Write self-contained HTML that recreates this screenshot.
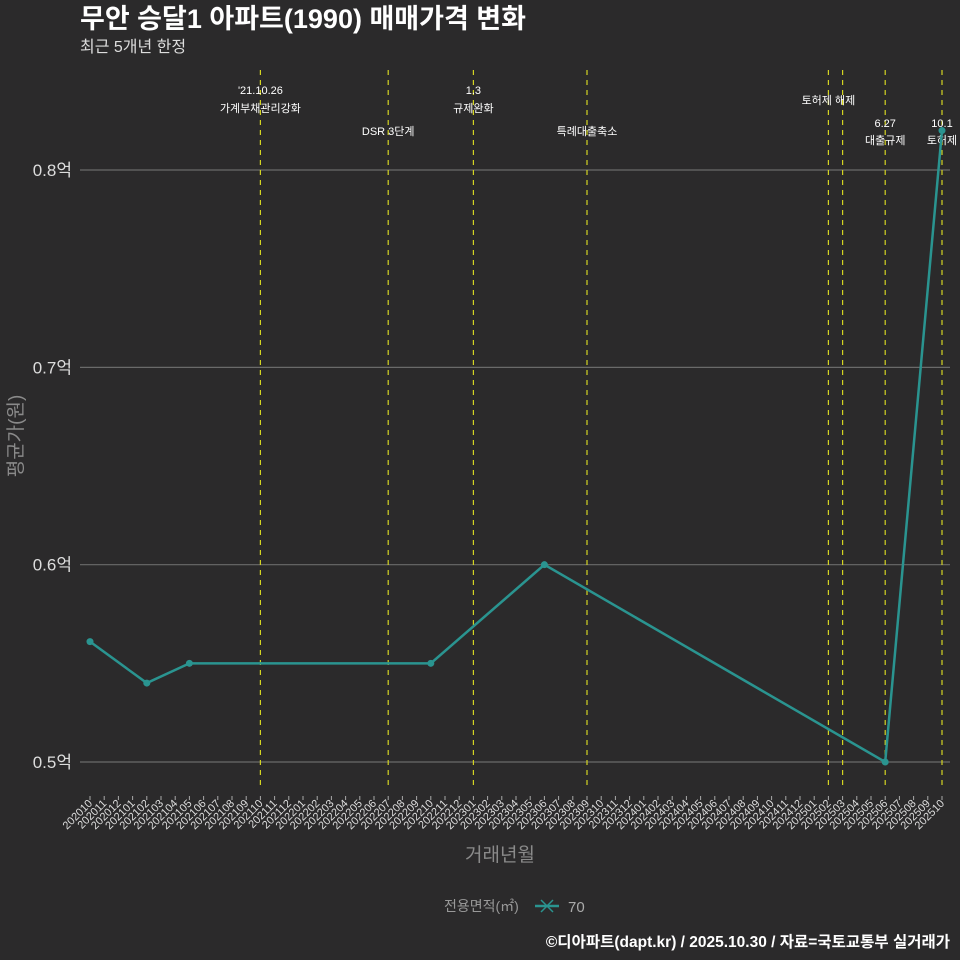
<!DOCTYPE html>
<html><head><meta charset="utf-8">
<style>
body{margin:0;background:#2b2a2b;}
svg{display:block;font-family:"Liberation Sans","Noto Sans CJK KR",sans-serif;}
</style></head>
<body>
<svg id="c" width="960" height="960" viewBox="0 0 960 960">
<rect width="960" height="960" fill="#2b2a2b"/>
<text x="80" y="28" fill="#fff" font-size="27" font-weight="bold">무안 승달1 아파트(1990) 매매가격 변화</text>
<text x="80" y="52" fill="#ddd" font-size="16">최근 5개년 한정</text>
<text transform="translate(22,436) rotate(-90)" text-anchor="middle" fill="#8a8a8a" font-size="19">평균가(원)</text>
<text x="500" y="861" text-anchor="middle" fill="#8a8a8a" font-size="19">거래년월</text>
<g>
<text x="444" y="911" fill="#999" font-size="14">전용면적(㎡)</text>
<line x1="535" y1="906" x2="559" y2="906" stroke="#2a9490" stroke-width="2.5"/>
<path d="M541 900 L553 912 M541 912 L553 900" stroke="#2a9490" stroke-width="1.5"/>
<text x="568" y="912" fill="#aaa" font-size="15">70</text>
</g>
<text x="950" y="947" text-anchor="end" fill="#fff" font-size="15.5" font-weight="bold">©디아파트(dapt.kr) / 2025.10.30 / 자료=국토교통부 실거래가</text>
</svg>
<script>
const months=[];for(let y=2020,m=10;!(y===2025&&m===11);){months.push(''+y+(m<10?'0':'')+m);m++;if(m>12){m=1;y++;}}
const yTicks=[0.5,0.6,0.7,0.8];
const yTickLabels=['0.5억','0.6억','0.7억','0.8억'];
const seriesMonths=['202010','202102','202105','202210','202306','202506','202510'];
const seriesValues=[0.561,0.54,0.55,0.55,0.60,0.50,0.82];
const eventMonths=['202110','202207','202301','202309','202502','202503','202506','202510'];
const eventLine1=["'21.10.26","","1.3","","토허제 해제","","6.27","10.1"];
const eventLine2=["가계부채관리강화","DSR 3단계","규제완화","특례대출축소","","","대출규제","토허제"];
const eventY=[ [94,112],[0,135],[94,112],[0,135],[104,0],[0,0],[127,144],[127,144] ];

const svg=document.getElementById('c');const NS='http://www.w3.org/2000/svg';
function xs(m){return 90+months.indexOf(m)*(852/60);}
function ys(v){return 762-(v-0.5)*1973.3;}
function mk(t,a,p){const e=document.createElementNS(NS,t);for(const k in a)e.setAttribute(k,a[k]);(p||svg).appendChild(e);return e;}

yTicks.forEach((v,i)=>{
 const l=mk('line',{x1:80,x2:950,y1:ys(v),y2:ys(v),stroke:'#6a6a6a','stroke-width':1.2});
 
 
 const t=mk('text',{x:72,y:ys(v)+6,'text-anchor':'end',fill:'#ddd','font-size':17});
 t.textContent=yTickLabels[i];
 
 
});
months.forEach(m=>{
 const x=xs(m);
 const tk=mk('line',{x1:x,x2:x,y1:796,y2:800,stroke:'#aaa'});
 
 
 const t=mk('text',{transform:`translate(${x+3},${804}) rotate(-45)`,'text-anchor':'end',fill:'#ddd','font-size':11});
 t.textContent=m;
 
 
});
eventMonths.forEach((m,i)=>{
 const x=xs(m);
 const l=mk('line',{x1:x,x2:x,y1:70,y2:790,stroke:'#d4d422','stroke-width':1.2,'stroke-dasharray':'5,5'});
 
 
 [[eventLine1[i],eventY[i][0]],[eventLine2[i],eventY[i][1]]].forEach(([s,y])=>{
  if(!s)return;
  const t=mk('text',{x:x,y:y,'text-anchor':'middle',fill:'#fff','font-size':11});
  t.textContent=s;
  
  
 });
});
const pts=seriesMonths.map((m,i)=>[xs(m),ys(seriesValues[i])]);
const pl=mk('polyline',{points:pts.map(p=>p.join(',')).join(' '),fill:'none',stroke:'#2a9490','stroke-width':2.5});


pts.forEach(p=>{
 const c=mk('circle',{cx:p[0],cy:p[1],r:3.5,fill:'#2a9490'});
 
 
});
</script>
</body></html>
